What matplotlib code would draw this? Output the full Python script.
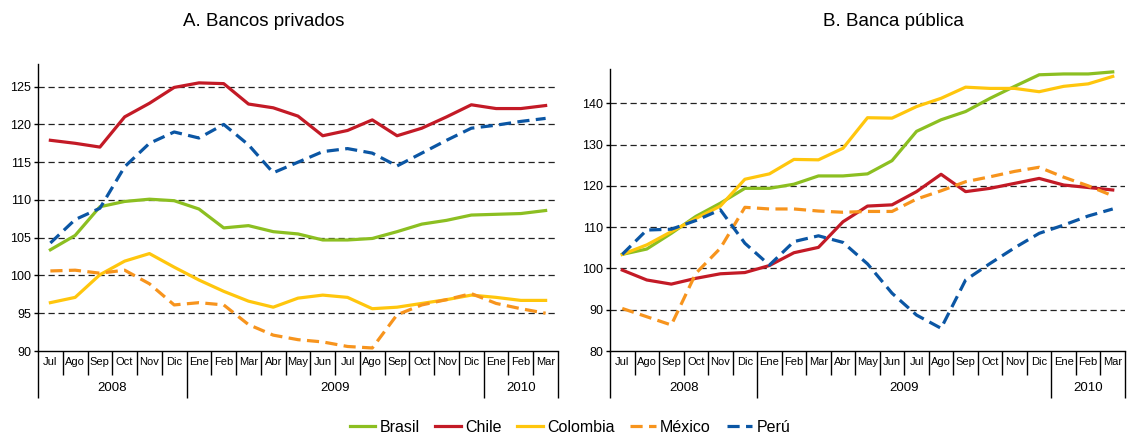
import numpy as np
import matplotlib
matplotlib.use("Agg")
import matplotlib.pyplot as plt
from matplotlib.transforms import blended_transform_factory

plt.rcParams['font.family'] = ['Liberation Sans', 'DejaVu Sans']

# 月と年のラベル
meses = ["Jul", "Ago", "Sep", "Oct", "Nov", "Dic", "Ene", "Feb", "Mar", "Abr", "May", "Jun",
         "Jul", "Ago", "Sep", "Oct", "Nov", "Dic", "Ene", "Feb", "Mar"]
anios = ["2008", "2009", "2010"]
anio_desde = [0, 6, 18]
anio_hasta = [5, 17, 20]
paises = ["Brasil", "Chile", "Colombia", "México", "Perú"]

# A. Bancos privados
priv_brasil = [103.4, 105.3, 109.1, 109.8, 110.1, 109.9, 108.8, 106.3, 106.6, 105.8, 105.5,
               104.7, 104.7, 104.9, 105.8, 106.8, 107.3, 108.0, 108.1, 108.2, 108.6]
priv_chile = [117.9, 117.5, 117.0, 121.0, 122.8, 124.9, 125.5, 125.4, 122.7, 122.2, 121.1,
              118.5, 119.2, 120.6, 118.5, 119.5, 121.0, 122.6, 122.1, 122.1, 122.5]
priv_colombia = [96.4, 97.1, 100.1, 101.9, 102.9, 101.1, 99.4, 97.9, 96.6, 95.8, 97.0,
                 97.4, 97.1, 95.6, 95.8, 96.3, 96.8, 97.4, 97.1, 96.7, 96.7]
priv_mexico = [100.6, 100.7, 100.3, 100.7, 98.9, 96.1, 96.4, 96.1, 93.5, 92.1, 91.5,
               91.2, 90.6, 90.4, 94.8, 96.1, 96.8, 97.6, 96.3, 95.6, 95.0]
priv_peru = [104.3, 107.4, 108.9, 114.4, 117.5, 119.0, 118.2, 120.0, 117.3, 113.6, 115.0,
             116.4, 116.8, 116.2, 114.5, 116.2, 117.9, 119.5, 119.9, 120.4, 120.8]

# B. Banca pública
pub_brasil = [103.4, 104.7, 108.5, 112.6, 115.8, 119.4, 119.4, 120.4, 122.4, 122.4, 122.9,
              126.1, 133.2, 136.0, 138.0, 141.2, 144.1, 146.9, 147.1, 147.1, 147.6]
pub_chile = [99.6, 97.2, 96.2, 97.6, 98.7, 99.0, 100.7, 103.8, 105.1, 111.3, 115.1,
             115.4, 118.6, 122.8, 118.6, 119.4, 120.6, 121.8, 120.2, 119.6, 119.0]
pub_colombia = [103.4, 105.7, 108.9, 112.1, 115.1, 121.6, 122.9, 126.4, 126.3, 129.1, 136.5,
                136.4, 139.2, 141.2, 143.9, 143.6, 143.6, 142.8, 144.1, 144.7, 146.5]
pub_mexico = [90.3, 88.3, 86.3, 98.8, 104.9, 114.8, 114.4, 114.4, 113.9, 113.6, 113.8,
              113.8, 116.8, 118.8, 121.0, 122.2, 123.5, 124.5, 122.1, 120.0, 117.6]
pub_peru = [103.4, 109.3, 109.5, 111.6, 114.2, 106.1, 100.8, 106.5, 107.9, 106.3, 101.1,
            94.0, 88.7, 85.5, 97.2, 101.2, 105.0, 108.5, 110.5, 112.7, 114.4]

colores = ["#8cbf21", "#c31a26", "#ffc60d", "#f7941d", "#0b56a4"]
discontinua = [False, False, False, True, True]

W, H = 1133, 437
fig = plt.figure(figsize=(W / 100, H / 100), dpi=100)
ax1 = fig.add_axes([38 / W, 1 - 351 / H, (558 - 38) / W, (351 - 64) / H])
ax2 = fig.add_axes([610 / W, 1 - 351 / H, (1125 - 610) / W, (351 - 69) / H])


def dibujar(ax, series, ylim, yticks):
    x = np.arange(len(meses))
    lineas = []
    for vals, c, d in zip(series, colores, discontinua):
        ls = (0, (3.8, 2)) if d else '-'
        l, = ax.plot(x, vals, color=c, lw=2.3, ls=ls, zorder=3)
        lineas.append(l)

    ax.set_xlim(-0.5, len(meses) - 0.5)
    ax.set_ylim(*ylim)
    # 破線のグリッド
    for g in yticks[1:]:
        ax.axhline(g, color='#222222', lw=0.9, ls=(0, (5, 3)), zorder=1)

    ax.spines['top'].set_visible(False)
    ax.spines['right'].set_visible(False)
    ax.spines['left'].set_linewidth(1.0)
    ax.spines['bottom'].set_linewidth(1.0)
    ax.set_yticks(yticks)
    ax.tick_params(axis='y', length=3, width=1, pad=2, labelsize=9)
    ax.set_xticks(x)
    ax.set_xticklabels(meses, fontsize=8)
    ax.tick_params(axis='x', length=0, pad=4)

    # 月・年の区切り線
    h = ax.get_position().height * H
    tr = blended_transform_factory(ax.transData, ax.transAxes)
    bordes_anio = [-0.5] + [b + 0.5 for b in anio_hasta]
    for i in range(len(meses) + 1):
        b = i - 0.5
        largo = 47 if b in bordes_anio else 24
        ax.plot([b, b], [0, -largo / h], transform=tr, color='black', lw=1.0,
                clip_on=False, solid_capstyle='butt')
    for a, d, hh in zip(anios, anio_desde, anio_hasta):
        ax.text((d + hh) / 2, -37 / h, a, transform=tr, ha='center', va='center', fontsize=9.5)
    return lineas


lineas = dibujar(ax1, [priv_brasil, priv_chile, priv_colombia, priv_mexico, priv_peru],
                 (90, 128), [90, 95, 100, 105, 110, 115, 120, 125])
dibujar(ax2, [pub_brasil, pub_chile, pub_colombia, pub_mexico, pub_peru],
        (80, 148.3), [80, 90, 100, 110, 120, 130, 140])

fig.text(264 / W, 1 - 26 / H, "A. Bancos privados", ha='center', va='baseline', fontsize=13.5)
fig.text(893 / W, 1 - 26 / H, "B. Banca pública", ha='center', va='baseline', fontsize=13.5)

fig.legend(lineas, paises, loc='center', bbox_to_anchor=(570 / W, 1 - 427 / H), ncol=5,
           frameon=False, fontsize=11.5, handlelength=1.6, handletextpad=0.25, columnspacing=1.0)

plt.savefig("out.png", dpi=100)
